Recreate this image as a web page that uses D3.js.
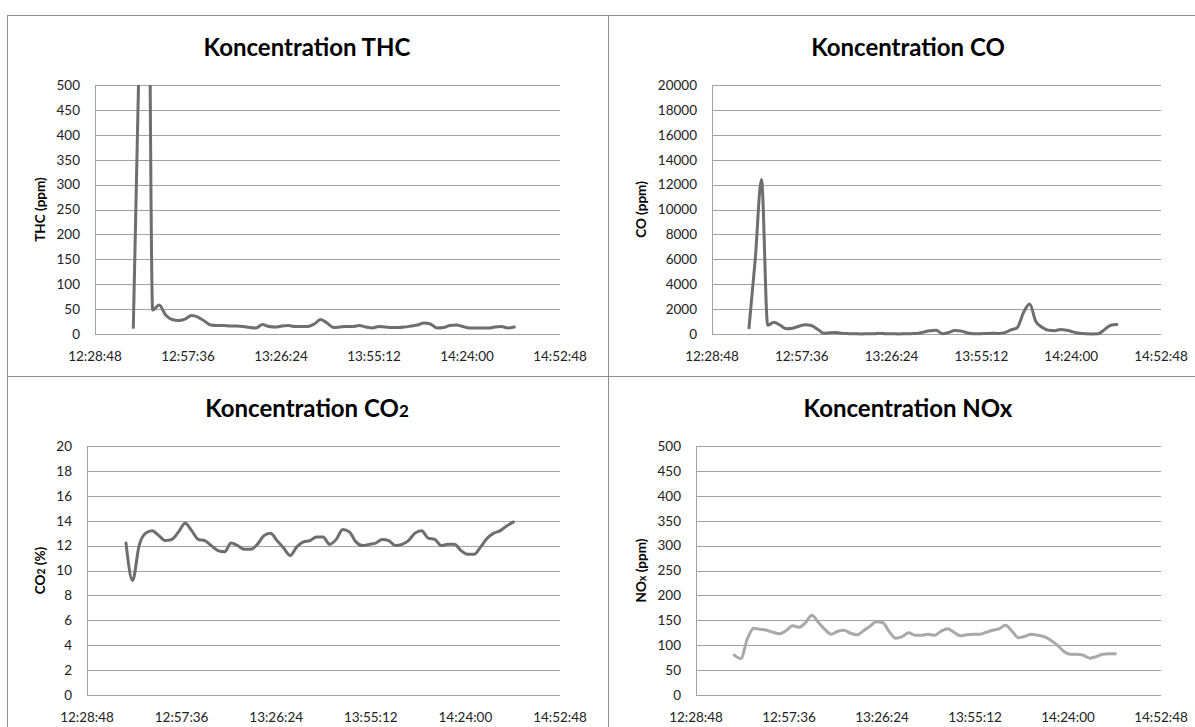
<!DOCTYPE html>
<html>
<head>
<meta charset="utf-8">
<script src="https://cdn.jsdelivr.net/npm/d3@7"></script>
<style>
  body { margin: 0; background: #fff; }
  svg { display: block; font-family: Lato, "Open Sans", sans-serif; }
</style>
</head>
<body>
<svg width="1195" height="727"></svg>
<script>
var times = ["12:40:40","12:42:40","12:44:40","12:46:40","12:48:40","12:50:40","12:52:40","12:54:40","12:56:40","12:58:40",
  "13:00:40","13:02:40","13:04:40","13:06:40","13:08:40","13:10:40","13:12:40","13:14:40","13:16:40","13:18:40",
  "13:20:40","13:22:40","13:24:40","13:26:40","13:28:40","13:30:40","13:32:40","13:34:40","13:36:40","13:38:40",
  "13:40:40","13:42:40","13:44:40","13:46:40","13:48:40","13:50:40","13:52:40","13:54:40","13:56:40","13:58:40",
  "14:00:40","14:02:40","14:04:40","14:06:40","14:08:40","14:10:40","14:12:40","14:14:40","14:16:40","14:18:40",
  "14:20:40","14:22:40","14:24:40","14:26:40","14:28:40","14:30:40","14:32:40","14:34:40","14:36:40","14:38:40"];

var thc = [13, 620, 1400, 48, 58, 38, 29, 27, 30, 37,
  34, 26, 18, 17, 17, 16, 16, 15, 13, 12,
  19, 15, 14, 16, 17, 15, 15, 15, 20, 29,
  22, 13, 14, 15, 15, 17, 14, 12, 15, 14,
  13, 13, 14, 16, 18, 22, 20, 12, 13, 17,
  18, 15, 12, 12, 12, 12, 14, 15, 12, 14];

var co = [500, 6000, 12400, 700, 950, 700, 430, 470, 620, 750,
  680, 380, 60, 100, 120, 50, 30, 20, 10, 30,
  20, 70, 30, 20, 10, 20, 30, 50, 150, 270,
  300, 30, 120, 280, 250, 80, 30, 20, 40, 60,
  50, 110, 330, 500, 1700, 2400, 1000, 540, 300, 270,
  370, 300, 170, 60, 20, 10, 20, 350, 700, 760];

var co2 = [12.2, 9.2, 12.0, 13.0, 13.2, 12.8, 12.4, 12.5, 13.1, 13.8,
  13.2, 12.5, 12.4, 12.0, 11.6, 11.5, 12.2, 12.0, 11.7, 11.7,
  12.1, 12.8, 13.0, 12.4, 11.8, 11.2, 11.9, 12.3, 12.4, 12.7,
  12.7, 12.1, 12.5, 13.3, 13.1, 12.3, 12.0, 12.1, 12.2, 12.5,
  12.4, 12.0, 12.1, 12.4, 13.0, 13.2, 12.6, 12.5, 12.0, 12.1,
  12.1, 11.6, 11.3, 11.3, 11.9, 12.6, 13.0, 13.2, 13.6, 13.9];

var nox = [80, 73, 112, 134, 132, 130, 126, 123, 129, 139,
  136, 145, 160, 146, 132, 122, 128, 130, 124, 121,
  129, 138, 147, 145, 127, 114, 117, 125, 120, 120,
  122, 120, 128, 133, 126, 119, 121, 122, 122, 126,
  130, 133, 140, 128, 115, 118, 122, 120, 117, 110,
  100, 88, 82, 82, 80, 74, 77, 82, 83, 83];

var xTicks = ["12:28:48", "12:57:36", "13:26:24", "13:55:12", "14:24:00", "14:52:48"];
var thcTicks = [0, 50, 100, 150, 200, 250, 300, 350, 400, 450, 500];
var coTicks = [0, 2000, 4000, 6000, 8000, 10000, 12000, 14000, 16000, 18000, 20000];
var co2Ticks = [0, 2, 4, 6, 8, 10, 12, 14, 16, 18, 20];
var noxTicks = [0, 50, 100, 150, 200, 250, 300, 350, 400, 450, 500];

function toSec(s) {
  var p = s.split(":");
  return +p[0] * 3600 + +p[1] * 60 + +p[2];
}

var svg = d3.select("svg");

// panel frames
var frame = svg.append("g").attr("stroke", "#8e8e8e").attr("stroke-width", 1).attr("shape-rendering", "crispEdges");
frame.append("line").attr("x1", 7).attr("x2", 1195).attr("y1", 15.5).attr("y2", 15.5);
frame.append("line").attr("x1", 7).attr("x2", 1195).attr("y1", 376.5).attr("y2", 376.5);
frame.append("line").attr("x1", 7.5).attr("x2", 7.5).attr("y1", 15).attr("y2", 727);
frame.append("line").attr("x1", 608.5).attr("x2", 608.5).attr("y1", 15).attr("y2", 727);

var panels = [
  {id: "thc", title: ["Koncentration THC"], ylab: [["THC (ppm)", 0]], vals: thc, ticks: thcTicks,
   cx: 307, ty: 56, ax: 40, l: 95, r: 560, t: 85, b: 334, color: "#6e6e6e"},
  {id: "co", title: ["Koncentration CO"], ylab: [["CO (ppm)", 0]], vals: co, ticks: coTicks,
   cx: 908, ty: 56, ax: 641, l: 712, r: 1161, t: 85, b: 334, color: "#6e6e6e"},
  {id: "co2", title: ["Koncentration CO", "2"], ylab: [["CO", 0], ["2", 1], [" (%)", 0]], vals: co2, ticks: co2Ticks,
   cx: 307, ty: 417, ax: 40, l: 87, r: 560, t: 446, b: 695, color: "#6e6e6e"},
  {id: "nox", title: ["Koncentration NOx"], ylab: [["NO", 0], ["x", 1], [" (ppm)", 0]], vals: nox, ticks: noxTicks,
   cx: 908, ty: 417, ax: 641, l: 696, r: 1161, t: 446, b: 695, color: "#a9a9a9"}
];

panels.forEach(function(p) {
  var g = svg.append("g");
  var x = d3.scaleLinear().domain([toSec(xTicks[0]), toSec(xTicks[xTicks.length - 1])]).range([p.l, p.r]);
  var y = d3.scaleLinear().domain([0, d3.max(p.ticks)]).range([p.b, p.t]);

  // grid lines
  g.append("g").selectAll("line").data(p.ticks).join("line")
    .attr("x1", p.l).attr("x2", p.r)
    .attr("y1", function(d) { return Math.round(y(d)) + 0.5; })
    .attr("y2", function(d) { return Math.round(y(d)) + 0.5; })
    .attr("stroke", "#a3a3a3").attr("stroke-width", 1);
  g.append("line").attr("x1", p.l + 0.5).attr("x2", p.l + 0.5)
    .attr("y1", Math.round(y(d3.max(p.ticks))) + 0.5).attr("y2", Math.round(y(0)) + 0.5)
    .attr("stroke", "#a3a3a3");

  // y tick labels
  g.append("g").selectAll("text").data(p.ticks).join("text")
    .attr("x", p.l - 15).attr("y", function(d) { return y(d); })
    .attr("dy", "0.36em").attr("text-anchor", "end")
    .attr("font-size", 13.5).attr("fill", "#222")
    .text(function(d) { return d; });

  // x tick labels
  g.append("g").selectAll("text").data(xTicks).join("text")
    .attr("x", function(d) { return x(toSec(d)); }).attr("y", p.b + 27)
    .attr("text-anchor", "middle").attr("font-size", 13.5).attr("fill", "#222")
    .text(function(d) { return d; });

  // title
  var tt = g.append("text").attr("x", p.cx).attr("y", p.ty).attr("text-anchor", "middle")
    .attr("font-size", 24).attr("font-weight", "bold").attr("fill", "#000");
  tt.append("tspan").text(p.title[0]);
  if (p.title[1]) tt.append("tspan").attr("font-size", 17).text(p.title[1]);

  // y axis title
  var yt = g.append("text")
    .attr("transform", "translate(" + p.ax + "," + ((p.t + p.b) / 2) + ") rotate(-90)")
    .attr("text-anchor", "middle").attr("dy", "0.35em")
    .attr("font-size", 13.5).attr("font-weight", "bold").attr("fill", "#000");
  p.ylab.forEach(function(s) {
    yt.append("tspan").attr("font-size", s[1] ? 10.5 : 13.5).text(s[0]);
  });

  // the line, clipped to plot area
  g.append("clipPath").attr("id", "clip-" + p.id).append("rect")
    .attr("x", p.l).attr("y", p.t).attr("width", p.r - p.l).attr("height", p.b - p.t + 4);

  var line = d3.line()
    .x(function(d, i) { return x(toSec(times[i])); })
    .y(function(d) { return y(d); })
    .curve(d3.curveMonotoneX);

  g.append("path").datum(p.vals)
    .attr("clip-path", "url(#clip-" + p.id + ")")
    .attr("d", line)
    .attr("fill", "none").attr("stroke", p.color).attr("stroke-width", 3)
    .attr("stroke-linejoin", "round").attr("stroke-linecap", "round");
});
</script>
</body>
</html>
